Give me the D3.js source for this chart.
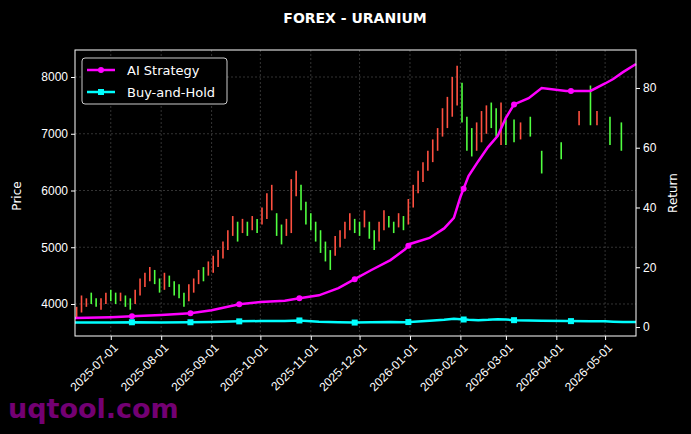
<!DOCTYPE html><html><head><meta charset="utf-8">
<script src="https://cdn.jsdelivr.net/npm/d3@7"></script>
<style>body{margin:0;background:#000}svg{display:block;font-family:"DejaVu Sans",sans-serif}</style></head><body>
<svg id="c" width="691" height="434"></svg>
<script>
const title = "FOREX - URANIUM";
const barDates = ["2025-06-10","2025-06-13","2025-06-16","2025-06-19","2025-06-22","2025-06-25","2025-06-28","2025-07-01","2025-07-04","2025-07-07","2025-07-10","2025-07-13","2025-07-16","2025-07-19","2025-07-22","2025-07-25","2025-07-28","2025-07-31","2025-08-03","2025-08-06","2025-08-09","2025-08-12","2025-08-15","2025-08-18","2025-08-21","2025-08-24","2025-08-27","2025-08-30","2025-09-02","2025-09-05","2025-09-08","2025-09-11","2025-09-14","2025-09-17","2025-09-20","2025-09-23","2025-09-26","2025-09-29","2025-10-02","2025-10-05","2025-10-08","2025-10-11","2025-10-14","2025-10-17","2025-10-20","2025-10-23","2025-10-26","2025-10-29","2025-11-01","2025-11-04","2025-11-07","2025-11-10","2025-11-13","2025-11-16","2025-11-19","2025-11-22","2025-11-25","2025-11-28","2025-12-01","2025-12-04","2025-12-07","2025-12-10","2025-12-13","2025-12-16","2025-12-19","2025-12-22","2025-12-25","2025-12-28","2025-12-31","2026-01-03","2026-01-06","2026-01-09","2026-01-12","2026-01-15","2026-01-18","2026-01-21","2026-01-24","2026-01-27","2026-01-30","2026-02-02","2026-02-05","2026-02-08","2026-02-11","2026-02-14","2026-02-17","2026-02-20","2026-02-23","2026-02-26","2026-03-01","2026-03-06","2026-03-10","2026-03-16","2026-03-23","2026-04-04","2026-04-15","2026-04-22","2026-04-26","2026-05-04","2026-05-11"];
const barLow = [3750,3850,3950,4000,3950,3900,4000,4050,4000,4050,3950,3900,4000,4150,4300,4400,4350,4200,4250,4300,4150,4100,3950,4050,4200,4350,4400,4500,4550,4650,4800,4950,5200,5100,5250,5200,5300,5250,5400,5500,5650,5200,5050,5200,5250,5900,5650,5400,5300,5100,4900,4750,4600,4850,5000,5150,5300,5250,5200,5350,5150,4950,5100,5300,5350,5250,5350,5300,5400,5700,5950,6150,6350,6500,6700,6950,7100,7300,7500,7200,6700,6600,6700,6850,7000,7100,6950,6800,6800,6850,6900,6950,6300,6550,7150,7150,7150,6800,6700];
const barHigh = [3950,4150,4100,4200,4100,4100,4200,4250,4200,4200,4150,4100,4250,4450,4550,4650,4600,4450,4550,4500,4400,4350,4200,4350,4450,4600,4650,4750,4850,4950,5100,5300,5550,5450,5500,5450,5550,5500,5700,5950,6100,5600,5400,5500,6200,6350,6100,5800,5600,5450,5300,5100,4950,5200,5300,5450,5600,5500,5450,5650,5450,5300,5450,5650,5550,5450,5600,5550,5850,6100,6350,6500,6700,6900,7100,7450,7650,8000,8200,7900,7300,7100,7200,7400,7500,7550,7450,7550,7250,7250,7200,7300,6700,6850,7400,7850,7400,7300,7200];
const barUp = [1,1,1,0,0,1,1,0,0,1,0,0,1,1,1,1,0,0,1,0,0,0,0,1,1,1,0,1,1,1,1,1,1,0,1,0,1,0,1,1,1,0,0,1,1,1,0,0,0,0,0,0,0,1,1,1,1,0,0,1,0,0,1,1,0,0,1,0,1,1,1,1,1,1,1,1,1,1,1,0,0,0,1,1,1,0,0,1,0,0,1,0,0,0,1,0,1,0,0];
const retDates = ["2025-06-09","2025-07-01","2025-07-14","2025-08-01","2025-08-19","2025-09-01","2025-09-18","2025-10-01","2025-10-16","2025-10-25","2025-11-06","2025-11-18","2025-11-28","2025-12-08","2025-12-20","2025-12-29","2026-01-01","2026-01-13","2026-01-22","2026-01-28","2026-02-01","2026-02-06","2026-02-12","2026-02-18","2026-02-24","2026-03-01","2026-03-06","2026-03-15","2026-03-23","2026-04-07","2026-04-22","2026-05-01","2026-05-06","2026-05-12","2026-05-20"];
const aiReturn = [3,3.3,3.6,4,4.6,5.6,7.6,8.4,8.8,9.6,10.6,13,16,19,22.4,26,27.8,29.8,33,36.5,43.5,50.5,55.5,60.2,64,70,74.5,76.6,80,79,79,81.5,83,85.3,88];
const bhReturn = [1.5,1.5,1.6,1.5,1.6,1.7,1.9,2,2,2.2,1.8,1.6,1.5,1.6,1.7,1.6,1.7,2.1,2.4,2.8,2.6,2.4,2.3,2.4,2.6,2.5,2.3,2.2,2.1,2,1.9,1.9,1.8,1.7,1.7];
const markerDates = ["2025-07-14","2025-08-19","2025-09-18","2025-10-25","2025-11-28","2025-12-31","2026-02-03","2026-03-06","2026-04-10"];
const xTicks = ["2025-07-01","2025-08-01","2025-09-01","2025-10-01","2025-11-01","2025-12-01","2026-01-01","2026-02-01","2026-03-01","2026-04-01","2026-05-01"];
const priceTicks = [4000,5000,6000,7000,8000];
const retTicks = [0,20,40,60,80];

const P = d3.timeParse("%Y-%m-%d");
const svg = d3.select("#c");
const L=75,R=636,T=50,B=336;
const x = d3.scaleTime().domain([P("2025-06-09"),P("2026-05-20")]).range([L,R]);
const y = d3.scaleLinear().domain([3436,8476]).range([B,T]);
const y2 = d3.scaleLinear().domain([-3,92.7]).range([B,T]);

svg.append("text").attr("x",355).attr("y",23).attr("text-anchor","middle").attr("fill","#fff").attr("font-weight","bold").attr("font-size",14).text(title);
const g = svg.append("g");
g.selectAll(".gx").data(xTicks).join("line").attr("x1",d=>x(P(d))).attr("x2",d=>x(P(d))).attr("y1",T).attr("y2",B).attr("stroke","#555").attr("stroke-width",0.6).attr("stroke-dasharray","2,2");
g.selectAll(".gy").data(priceTicks).join("line").attr("x1",L).attr("x2",R).attr("y1",d=>y(d)).attr("y2",d=>y(d)).attr("stroke","#555").attr("stroke-width",0.6).attr("stroke-dasharray","2,2");

g.selectAll(".bar").data(barDates).join("line")
 .attr("x1",d=>x(P(d))).attr("x2",d=>x(P(d)))
 .attr("y1",(d,i)=>y(barLow[i])).attr("y2",(d,i)=>y(barHigh[i]))
 .attr("stroke",(d,i)=>barUp[i]?"#ff5040":"#50ff40").attr("stroke-width",1.6);

const line = (arr,sc)=>d3.line().x((d,i)=>x(P(retDates[i]))).y(d=>sc(d))(arr);
g.append("path").attr("d",line(bhReturn,y2)).attr("fill","none").attr("stroke","#00ffff").attr("stroke-width",2.5);
g.append("path").attr("d",line(aiReturn,y2)).attr("fill","none").attr("stroke","#ff00ff").attr("stroke-width",2.5);
const interp=(arr,d)=>{const t=P(d);const ts=retDates.map(P);let i=d3.bisectRight(ts,t)-1;i=Math.max(0,Math.min(ts.length-2,i));const f=(t-ts[i])/(ts[i+1]-ts[i]);return arr[i]+(arr[i+1]-arr[i])*f;};
g.selectAll(".ma").data(markerDates).join("circle").attr("cx",d=>x(P(d))).attr("cy",d=>y2(interp(aiReturn,d))).attr("r",3).attr("fill","#ff00ff");
g.selectAll(".mb").data(markerDates).join("rect").attr("x",d=>x(P(d))-3).attr("y",d=>y2(interp(bhReturn,d))-3).attr("width",6).attr("height",6).attr("fill","#00ffff");

svg.append("rect").attr("x",L).attr("y",T).attr("width",R-L).attr("height",B-T).attr("fill","none").attr("stroke","#fff").attr("stroke-width",1);

const ax = svg.append("g").attr("transform",`translate(0,${B})`).call(d3.axisBottom(x).tickValues(xTicks.map(P)).tickFormat(d3.timeFormat("%Y-%m-%d")).tickSize(4));
ax.select(".domain").remove();
ax.selectAll("line").attr("stroke","#fff");
ax.selectAll("text").attr("fill","#fff").attr("font-size",12).attr("text-anchor","end").attr("transform","rotate(-45)").attr("dx","-0.3em").attr("dy","0.6em");
const ay = svg.append("g").attr("transform",`translate(${L},0)`).call(d3.axisLeft(y).tickValues(priceTicks).tickFormat(d3.format("d")).tickSize(4));
ay.select(".domain").remove(); ay.selectAll("line").attr("stroke","#fff"); ay.selectAll("text").attr("fill","#fff").attr("font-size",12);
const ay2 = svg.append("g").attr("transform",`translate(${R},0)`).call(d3.axisRight(y2).tickValues(retTicks).tickSize(4));
ay2.select(".domain").remove(); ay2.selectAll("line").attr("stroke","#fff"); ay2.selectAll("text").attr("fill","#fff").attr("font-size",12);
svg.append("text").attr("transform","translate(21,196) rotate(-90)").attr("text-anchor","middle").attr("fill","#fff").attr("font-size",12).text("Price");
svg.append("text").attr("transform","translate(677,193) rotate(-90)").attr("text-anchor","middle").attr("fill","#fff").attr("font-size",12).text("Return");

const lg = svg.append("g").attr("transform","translate(82,58)");
lg.append("rect").attr("width",145).attr("height",46).attr("rx",3).attr("fill","#000").attr("stroke","#ccc");
[["AI Strategy","#ff00ff","c"],["Buy-and-Hold","#00ffff","s"]].forEach((e,i)=>{
 const yy=12+i*22;
 lg.append("line").attr("x1",5).attr("x2",33).attr("y1",yy).attr("y2",yy).attr("stroke",e[1]).attr("stroke-width",2.5);
 if(e[2]=="c") lg.append("circle").attr("cx",19).attr("cy",yy).attr("r",3).attr("fill",e[1]);
 else lg.append("rect").attr("x",16).attr("y",yy-3).attr("width",6).attr("height",6).attr("fill",e[1]);
 lg.append("text").attr("x",45).attr("y",yy+4.5).attr("fill","#fff").attr("font-size",13).text(e[0]);
});
svg.append("text").attr("x",8).attr("y",418).attr("fill","#800080").attr("font-weight","bold").attr("font-size",27).attr("opacity",0.9).text("uqtool.com");
</script></body></html>
